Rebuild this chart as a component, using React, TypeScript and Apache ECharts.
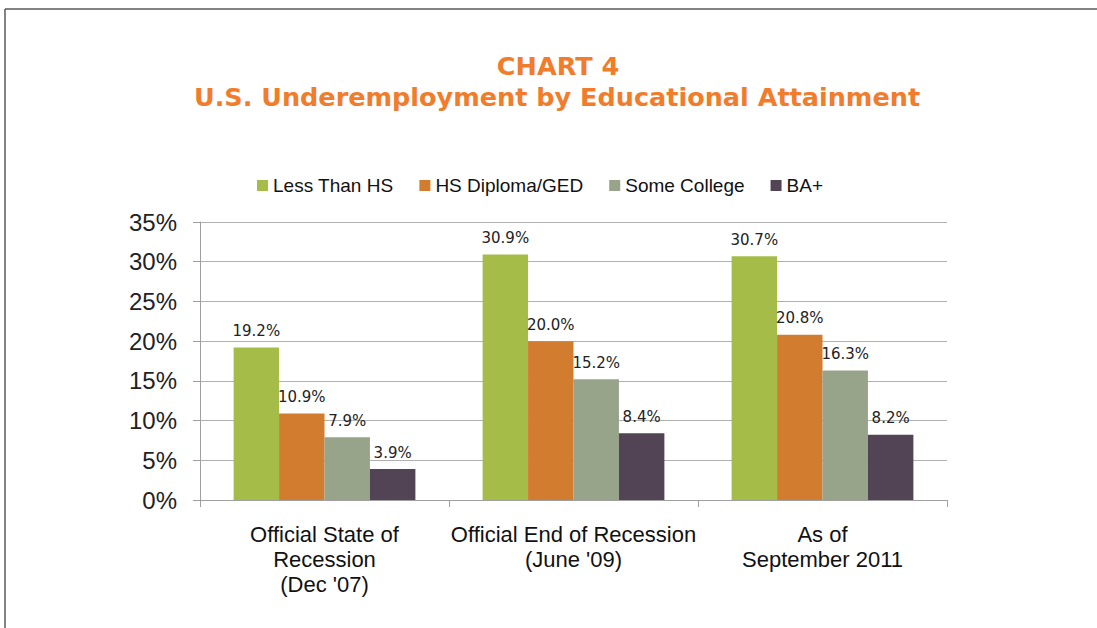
import React, { useEffect, useRef } from "react";
import * as echarts from "echarts";

const categories = ["Official State of\nRecession\n(Dec '07)", "Official End of Recession\n(June '09)", "As of\nSeptember 2011"];
const seriesNames = ["Less Than HS", "HS Diploma/GED", "Some College", "BA+"];
const lessThanHS = [19.2, 30.9, 30.7];
const hsDiploma = [10.9, 20.0, 20.8];
const someCollege = [7.9, 15.2, 16.3];
const baPlus = [3.9, 8.4, 8.2];
const colors = ["#A6BC49", "#D27C2F", "#97A48A", "#524454"];
const titleLines = ["CHART 4", "U.S. Underemployment by Educational Attainment"];

export default function App() {
  const ref = useRef<HTMLDivElement>(null);
  useEffect(() => {
    const chart = echarts.init(ref.current!, null, { renderer: "svg" });
    const values = [lessThanHS, hsDiploma, someCollege, baPlus];
    chart.setOption({
      animation: false,
      color: colors,
      graphic: [
        { type: "line", shape: { x1: 5, y1: 9, x2: 1097, y2: 9 }, style: { stroke: "#5a5a5a", lineWidth: 1.5 } },
        { type: "line", shape: { x1: 5, y1: 9, x2: 5, y2: 628 }, style: { stroke: "#5a5a5a", lineWidth: 1.5 } },
        {
          type: "text", x: 558, y: 66,
          style: { text: titleLines[0], fill: "#F07C2C", font: "bold 25.5px 'DejaVu Sans'", textAlign: "center", textVerticalAlign: "middle" },
        },
        {
          type: "text", x: 557, y: 97,
          style: { text: titleLines[1], fill: "#F07C2C", font: "bold 25.5px 'DejaVu Sans'", textAlign: "center", textVerticalAlign: "middle" },
        },
      ],
      legend: {
        left: 257,
        top: 176,
        padding: 0,
        itemWidth: 11,
        itemHeight: 11,
        itemGap: 26,
        icon: "rect",
        textStyle: { fontFamily: "'Liberation Sans', Arial", fontSize: 19, color: "#111" },
        data: seriesNames,
      },
      grid: { left: 200, right: 150, top: 222, bottom: 128 },
      xAxis: {
        type: "category",
        data: categories,
        axisLine: { lineStyle: { color: "#A0A0A0", width: 1 } },
        axisTick: { show: true, length: 7, lineStyle: { color: "#A0A0A0" } },
        axisLabel: {
          fontFamily: "'Liberation Sans', Arial", fontSize: 22, color: "#111", lineHeight: 25, margin: 22, interval: 0,
        },
      },
      yAxis: {
        type: "value",
        min: 0,
        max: 35,
        interval: 5,
        axisLine: { show: true, lineStyle: { color: "#A0A0A0", width: 1 } },
        axisTick: { show: true, length: 7, lineStyle: { color: "#A0A0A0" } },
        splitLine: { lineStyle: { color: "#B0B0B0", width: 1 } },
        axisLabel: { formatter: "{value}%", fontFamily: "'Liberation Sans', Arial", fontSize: 24, color: "#222", margin: 23 },
      },
      series: seriesNames.map((name, i) => ({
        name,
        type: "bar",
        data: values[i],
        barGap: "0%",
        barCategoryGap: "27%",
        label: {
          show: true,
          position: "top",
          distance: 9,
          formatter: (p: any) => p.value.toFixed(1) + "%",
          fontFamily: "'DejaVu Sans', Verdana",
          fontSize: 15,
          color: "#222",
        },
      })),
    });
    return () => chart.dispose();
  }, []);
  return <div ref={ref} style={{ position: "fixed", left: 0, top: 0, width: 1097, height: 628, background: "#fff" }} />;
}
